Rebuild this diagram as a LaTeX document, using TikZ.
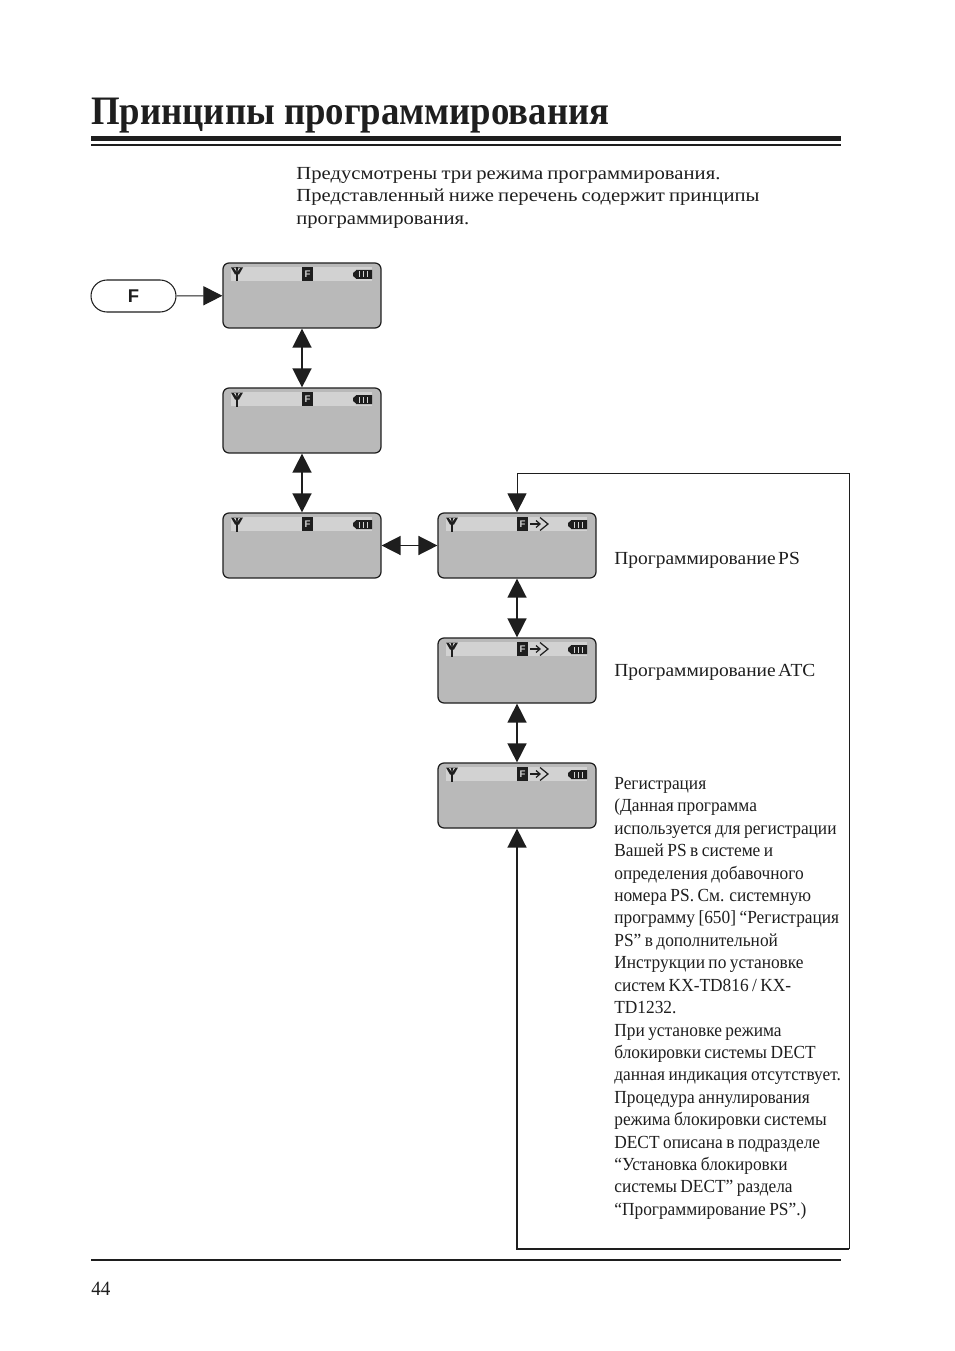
\documentclass[tikz,border=0pt]{standalone}
\usepackage{fontspec}
\usetikzlibrary{arrows.meta}
\setmainfont{Liberation Serif}
\newfontfamily\headfont[FakeStretch=0.91,Ligatures=TeX]{Liberation Serif Bold}
\newfontfamily\introfont[FakeStretch=1.12,WordSpace=0.8,Ligatures=TeX]{Liberation Serif}
\newfontfamily\notefont[FakeStretch=0.94,WordSpace=0.8,Ligatures=TeX]{Liberation Serif}
\newfontfamily\labelfont[FakeStretch=1.055,WordSpace=0.5,Ligatures=TeX]{Liberation Serif}
\newfontfamily\keyfont{Liberation Sans Bold}
\definecolor{lcdgrey}{HTML}{B9B9B9}
\definecolor{bargrey}{HTML}{D2D2D2}
\definecolor{inkgrey}{HTML}{1E1E1E}
\tikzset{
  lcdbody/.style={draw=inkgrey,fill=lcdgrey,line width=0.7pt,rounded corners=0.12cm,minimum width=3.16cm,minimum height=1.3cm,inner sep=0pt},
  lcdbar/.style={fill=bargrey,minimum width=2.82cm,minimum height=0.28cm,inner sep=0pt},
  lcdchip/.style={fill=inkgrey,text=bargrey,minimum width=0.21cm,minimum height=0.28cm,inner sep=0pt,font=\keyfont\fontsize{5.5}{5.5}\selectfont},
  keyshape/.style={draw=inkgrey,line width=0.6pt,rounded corners=0.32cm,minimum width=1.7cm,minimum height=0.64cm,inner sep=0pt,font=\keyfont\fontsize{10.5}{10.5}\selectfont,text=inkgrey},
  bigarrow/.style={draw=inkgrey,line width=0.85pt,-{Triangle[length=0.38cm,width=0.38cm]}},
  bothways/.style={draw=inkgrey,line width=0.85pt,{Triangle[length=0.38cm,width=0.38cm]}-{Triangle[length=0.38cm,width=0.38cm]}},
  loopline/.style={draw=inkgrey,line width=0.5pt},
  intro/.style={anchor=north west,inner sep=0pt,align=left,text=inkgrey,font=\introfont\fontsize{10.5}{12.8}\selectfont},
  note/.style={anchor=north west,inner sep=0pt,align=left,text=inkgrey,font=\notefont\fontsize{10.5}{12.76}\selectfont},
  shortnote/.style={anchor=north west,inner sep=0pt,text=inkgrey,font=\labelfont\fontsize{10.5}{12.76}\selectfont},
}
\newcommand{\lcdscreen}[3]{%
  \node [lcdbody] (#1) at (#2,#3) {};
  \begin{scope}[shift={(#1.center)}]
    \node [lcdbar] (#1-bar) at (-0.5,21.5) {};
    \node [lcdchip] (#1-chip) at (5.5,21.5) {F};
    \draw [inkgrey,line width=0.9pt] (-65,28) -- (-65,14);
    \fill [inkgrey] (-71,28) -- (-59,28) -- (-63,21) -- (-67,21) -- cycle;
    \fill [bargrey] (-68,27.4) -- (-66.4,27.4) -- (-65.6,24) -- cycle (-62,27.4) -- (-63.6,27.4) -- (-64.4,24) -- cycle;
    \fill [inkgrey] (54,25.5) rectangle (70,16.5) (51,22.5) -- (54,25) -- (54,17) -- (51,19.5) -- cycle;
    \foreach \tick in {57,61,65}
      \fill [bargrey] (\tick,24) rectangle (\tick+1.1,18);
  \end{scope}
}
\newcommand{\lcdpointer}[1]{%
  \begin{scope}[shift={(#1.center)}]
    \draw [inkgrey,line width=0.8pt] (13,21.5) -- (23,21.5);
    \draw [inkgrey,line width=0.7pt] (19,25) -- (23,21.5) -- (19,18);
    \draw [inkgrey,line width=0.7pt] (23,28) -- (31,21.5) -- (23,15);
  \end{scope}
}
\begin{document}
\begin{tikzpicture}[x=0.02cm,y=0.02cm]
\useasboundingbox (0,0) rectangle (954,-1351);
\fill [white] (0,0) rectangle (954,-1351);
\node [anchor=base west,inner sep=0pt,text=inkgrey,font=\headfont\fontsize{23}{23}\selectfont] (title) at (91,-125) {Принципы программирования};
\fill [inkgrey] (91,-136) rectangle (841,-141);
\draw [inkgrey,line width=0.6pt] (91,-145) -- (841,-145);
\node [intro] (lead) at (296,-167) {Предусмотрены три режима программирования.\\Представленный ниже перечень содержит принципы\\программирования.};
\node [keyshape] (keyf) at (133.5,-296) {F};
\lcdscreen{mode1}{302}{-295.5}
\lcdscreen{mode2}{302}{-420.5}
\lcdscreen{mode3}{302}{-545.5}
\lcdscreen{prog1}{517}{-545.5}
\lcdscreen{prog2}{517}{-670.5}
\lcdscreen{prog3}{517}{-795.5}
\lcdpointer{prog1}
\lcdpointer{prog2}
\lcdpointer{prog3}
\draw [bigarrow,line width=0.6pt] (keyf) -- (mode1);
\draw [bothways] (mode1) -- (mode2);
\draw [bothways] (mode2) -- (mode3);
\draw [bothways] (mode3) -- (prog1);
\draw [bothways] (prog1) -- (prog2);
\draw [bothways] (prog2) -- (prog3);
\coordinate (looptop) at (849,-473);
\coordinate (loopbot) at (849,-1249);
\draw [bigarrow,line width=0.5pt] (looptop) -| (prog1.north);
\draw [loopline] (looptop) -- (loopbot);
\draw [bigarrow,line width=0.9pt] (loopbot) -| (prog3.south);
\node [shortnote] (noteps) at (614,-552) {Программирование PS};
\node [shortnote] (noteatc) at (614,-664) {Программирование АТС};
\node [note] (notereg) at (614,-777) {Регистрация\\(Данная программа\\используется для регистрации\\Вашей PS в системе и\\определения добавочного\\номера PS. См. системную\\программу [650] ``Регистрация\\PS'' в дополнительной\\Инструкции по установке\\систем KX-TD816 / KX-\\TD1232.\\При установке режима\\блокировки системы DECT\\данная индикация отсутствует.\\Процедура аннулирования\\режима блокировки системы\\DECT описана в подразделе\\``Установка блокировки\\системы DECT'' раздела\\``Программирование PS''.)};
\draw [inkgrey,line width=1.1pt] (91,-1260) -- (841,-1260);
\node [anchor=base west,inner sep=0pt,text=inkgrey,font=\notefont\fontsize{11.5}{12}\selectfont] (pageno) at (91,-1295) {44};
\end{tikzpicture}
\end{document}
